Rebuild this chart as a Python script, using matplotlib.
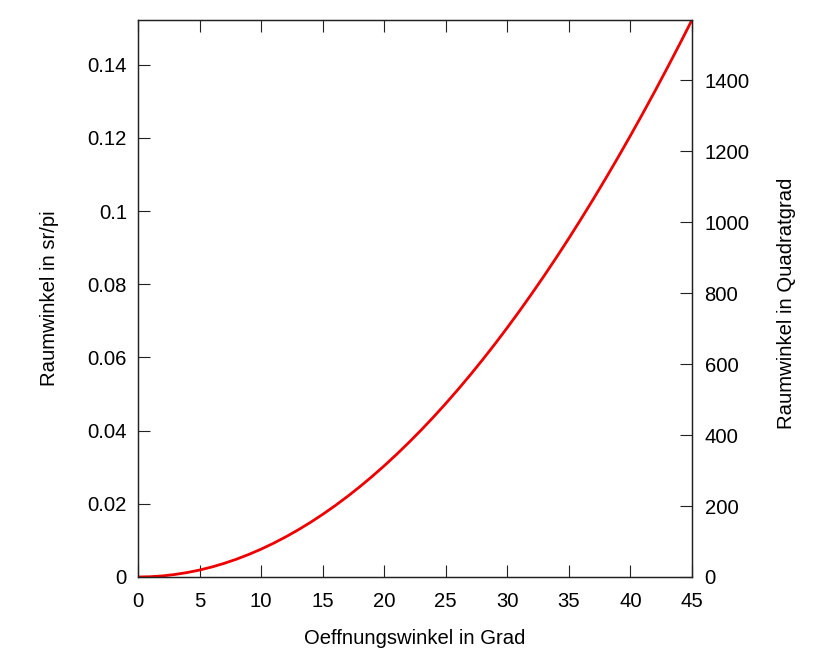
import matplotlib
matplotlib.use("Agg")
import matplotlib.pyplot as plt
from matplotlib.ticker import FormatStrFormatter, FuncFormatter

# opening angle (degrees) and solid angle (sr/pi)
angle_deg = list(range(0, 46))
solid_sr_pi = [0.0, 0.00008, 0.00030, 0.00069, 0.00122, 0.00190, 0.00274, 0.00373,
               0.00487, 0.00617, 0.00761, 0.00921, 0.01096, 0.01286, 0.01491, 0.01711,
               0.01946, 0.02197, 0.02462, 0.02743, 0.03038, 0.03349, 0.03675, 0.04015,
               0.04370, 0.04741, 0.05126, 0.05526, 0.05941, 0.06370, 0.06815, 0.07274,
               0.07748, 0.08236, 0.08739, 0.09256, 0.09789, 0.10335, 0.10896, 0.11471,
               0.12061, 0.12665, 0.13283, 0.13916, 0.14562, 0.15223]

x_ticks = [0, 5, 10, 15, 20, 25, 30, 35, 40, 45]
left_ticks = [0, 0.02, 0.04, 0.06, 0.08, 0.1, 0.12, 0.14]
right_ticks = [0, 200, 400, 600, 800, 1000, 1200, 1400]
sqdeg_per_sr_pi = 10313.24  # 180^2 / pi


def main():
    plt.rcParams['font.family'] = ['Liberation Sans', 'DejaVu Sans']
    plt.rcParams['font.size'] = 14.6

    fig = plt.figure(figsize=(8.2, 6.56), dpi=100)
    ax = fig.add_axes([138 / 820, 1 - 577 / 656, 554 / 820, 557 / 656])
    ax.plot(angle_deg, solid_sr_pi, color='#ee0000', linewidth=2.0)

    ax.set_xlim(0, 45)
    ax.set_ylim(0, 0.1522)
    ax.set_xticks(x_ticks)
    ax.set_yticks(left_ticks)
    ax.yaxis.set_major_formatter(FuncFormatter(lambda v, p: "%g" % round(v, 3)))
    ax.tick_params(direction='in', length=8.5, width=0.8, top=True, right=False,
                   color='#222222', pad=8)
    ax.tick_params(axis='x', pad=11)
    for s in ax.spines.values():
        s.set_linewidth(0.9)
        s.set_color('#222222')

    ax2 = ax.twinx()
    ax2.set_ylim(0, 0.1522 * sqdeg_per_sr_pi)
    ax2.set_yticks(right_ticks)
    ax2.yaxis.set_major_formatter(FormatStrFormatter('%d'))
    ax2.tick_params(direction='in', length=8.5, width=0.8, color='#222222', pad=9)
    for s in ax2.spines.values():
        s.set_linewidth(0.9)
        s.set_color('#222222')

    ax.set_xlabel("Oeffnungswinkel in Grad")
    ax.set_ylabel("Raumwinkel in sr/pi")
    ax2.set_ylabel("Raumwinkel in Quadratgrad")
    ax.xaxis.set_label_coords(0.5, -0.093)
    ax.yaxis.set_label_coords(-0.142, 0.5)
    ax2.yaxis.set_label_coords(1.154, 0.492)

    plt.savefig("out.png", dpi=100, facecolor='white')


if __name__ == '__main__':
    main()
